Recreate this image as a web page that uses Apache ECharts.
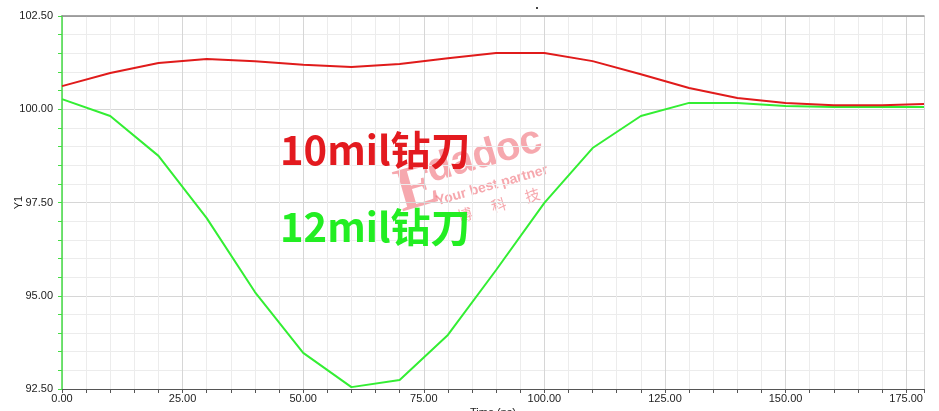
<!DOCTYPE html>
<html>
<head>
<meta charset="utf-8">
<script src="https://cdn.jsdelivr.net/npm/echarts@6/dist/echarts.min.js"></script>
<style>
  html, body { margin: 0; padding: 0; background: #fff; }
  #chart { width: 939px; height: 411px; }
</style>
</head>
<body>
<div id="chart"></div>
<script>
  // time (ns) sample points
  const times = [0, 10, 20, 30, 40, 50, 60, 70, 80, 90, 100, 110, 120, 130, 140, 150, 160, 170, 178.7]
  // 10mil drill
  const drill10 = [100.62, 100.97, 101.24, 101.35, 101.29, 101.19, 101.13, 101.21, 101.37, 101.51, 101.51, 101.29, 100.94, 100.57, 100.30, 100.17, 100.11, 100.11, 100.14]
  // 12mil drill
  const drill12 = [100.27, 99.82, 98.75, 97.08, 95.10, 93.47, 92.55, 92.74, 93.95, 95.69, 97.49, 98.96, 99.82, 100.17, 100.17, 100.09, 100.06, 100.06, 100.06]

  const labelFont = { fontFamily: 'Liberation Sans, Arial, sans-serif', fontSize: 11, color: '#222' }

  const pairs = arr => times.map((t, i) => [t, arr[i]])

  const wmColor = 'rgba(240,110,120,0.6)'

  const chart = echarts.init(document.getElementById('chart'))
  chart.setOption({
    animation: false,
    grid: { left: 62, right: 15, top: 16, bottom: 22, outerBoundsMode: 'none' },
    xAxis: [{
      type: 'value',
      min: 0,
      max: 178.7,
      interval: 25,
      name: 'Time (ns)',
      nameLocation: 'middle',
      nameGap: 18,
      nameMoveOverlap: false,
      nameTextStyle: labelFont,
      axisLine: { show: true, onZero: false, lineStyle: { color: '#555', width: 1 } },
      axisTick: { show: true, length: 4, lineStyle: { color: '#555' } },
      minorTick: { show: true, splitNumber: 5, length: 4, lineStyle: { color: '#555' } },
      axisLabel: Object.assign({ margin: 4, showMaxLabel: false,
        formatter: v => v.toFixed(2) }, labelFont),
      splitLine: { show: true, lineStyle: { color: '#d6d6d6' } },
      minorSplitLine: { show: true, lineStyle: { color: '#ececec' } }
    }, {
      type: 'value',
      position: 'top',
      min: 0,
      max: 178.7,
      axisLine: { show: true, lineStyle: { color: '#888', width: 1.5 } },
      axisTick: { show: false },
      axisLabel: { show: false },
      splitLine: { show: false }
    }],
    yAxis: {
      type: 'value',
      min: 92.5,
      max: 102.5,
      interval: 2.5,
      name: 'Y1',
      nameLocation: 'middle',
      nameGap: 38,
      nameRotate: 90,
      nameMoveOverlap: false,
      nameTextStyle: labelFont,
      axisLine: { show: true, lineStyle: { color: '#44dd44', width: 1.5 } },
      axisTick: { show: true, length: 4, lineStyle: { color: '#44dd44' } },
      minorTick: { show: true, splitNumber: 5, length: 4, lineStyle: { color: '#44dd44' } },
      axisLabel: Object.assign({ margin: 9, formatter: v => v.toFixed(2) }, labelFont),
      splitLine: { show: true, lineStyle: { color: '#d6d6d6' } },
      minorSplitLine: { show: true, lineStyle: { color: '#ececec' } }
    },
    series: [{
      name: '10mil钻刀',
      type: 'line',
      data: pairs(drill10),
      showSymbol: false,
      lineStyle: { color: '#e01b1b', width: 2 },
      z: 3
    }, {
      name: '12mil钻刀',
      type: 'line',
      data: pairs(drill12),
      showSymbol: false,
      lineStyle: { color: '#33ee33', width: 2 },
      z: 2
    }],
    graphic: [
      { type: 'rect', left: 536, top: 7, shape: { width: 2, height: 2 }, style: { fill: '#444' } },
      {
        type: 'text', left: 280, top: 130, z: 10,
        style: { text: '10mil钻刀', fill: '#e31a1f', font: 'bold 40px "Noto Sans CJK SC", sans-serif' }
      },
      {
        type: 'text', left: 280, top: 207, z: 10,
        style: { text: '12mil钻刀', fill: '#22ee22', font: 'bold 40px "Noto Sans CJK SC", sans-serif' }
      },
      {
        type: 'group', x: 405, y: 222, rotation: 0.28, z: 11,
        children: [
          { type: 'text', x: 0, y: -58, style: { text: 'E', fill: wmColor, font: 'bold 62px "Liberation Serif", serif' } },
          { type: 'text', x: 36, y: -62, style: { text: 'dadoc', fill: wmColor, font: 'bold 40px "Liberation Sans", sans-serif' } },
          { type: 'text', x: 36, y: -18, style: { text: 'Your best partner', fill: wmColor, font: 'bold 14px "Liberation Sans", sans-serif' } },
          { type: 'text', x: 52, y: 2, style: { text: '博      科      技', fill: wmColor, font: '15px "Noto Sans CJK SC", sans-serif' } }
        ]
      }
    ]
  })
</script>
</body>
</html>
